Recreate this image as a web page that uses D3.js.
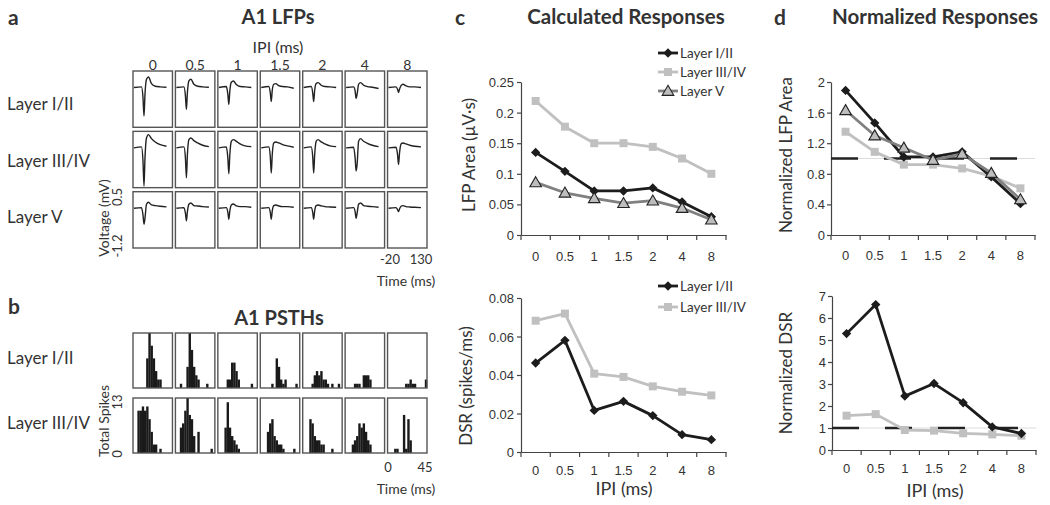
<!DOCTYPE html>
<html><head><meta charset="utf-8">
<script src="https://cdn.jsdelivr.net/npm/d3@7"></script>
<style>
body{margin:0;background:#fff;}
svg{display:block;font-family:Lato,"Open Sans",sans-serif;}
</style></head><body>
<svg id="chart" width="1050" height="505"></svg>
<script>
// ---------- DATA ----------
const ipis = ["0","0.5","1","1.5","2","4","8"];
const lfpLayers = ["Layer I/II","Layer III/IV","Layer V"];
const psthLayers = ["Layer I/II","Layer III/IV"];

// LFP traces: time points (ms) and voltage (mV) per IPI
const lfpTime = [-20,10,16,20,24,30,38,50,65,85,110];
const lfpL12 = [
  [0,0.02,-0.3,-0.86,-0.2,0.25,0.32,0.12,0.04,0.02,0.01],
  [0,0.02,-0.25,-0.66,-0.15,0.2,0.25,0.1,0.04,0.02,0.01],
  [0,0.03,-0.2,-0.51,-0.1,0.16,0.2,0.09,0.03,0.02,0],
  [0,0.03,-0.15,-0.42,-0.08,0.1,0.12,0.06,0.03,0.02,-0.02],
  [0,0.03,-0.15,-0.42,-0.08,0.12,0.15,0.07,0.03,0.02,0],
  [0,0.02,-0.1,-0.33,-0.2,0.1,0.15,0.07,0.03,0.01,-0.03],
  [0,0.02,-0.05,-0.15,-0.05,0.06,0.1,0.05,0.02,0.02,0]
];
const lfpL34 = [
  [0,0.03,-0.4,-1.15,-0.3,0.3,0.4,0.28,0.18,0.1,0.05],
  [0,0.03,-0.3,-0.9,-0.2,0.25,0.3,0.22,0.15,0.08,0.04],
  [0,0.03,-0.3,-0.78,-0.2,0.2,0.25,0.2,0.12,0.06,0.04],
  [0,0.03,-0.25,-0.76,-0.2,0.15,0.18,0.15,0.1,0.06,0.02],
  [0,0.03,-0.25,-0.76,-0.2,0.2,0.25,0.18,0.12,0.06,0.04],
  [0,0.02,-0.3,-0.7,-0.5,0.2,0.28,0.2,0.14,0.08,0.04],
  [0,0.02,-0.2,-0.5,-0.15,0.12,0.15,0.12,0.08,0.05,0.03]
];
const lfpL5 = [
  [0,0.02,-0.2,-0.48,-0.3,0.12,0.18,0.1,0.08,0.06,0.04],
  [0,0.02,-0.15,-0.38,-0.1,0.12,0.16,0.08,0.07,0.05,0.04],
  [0,0.02,-0.12,-0.33,-0.08,0.1,0.13,0.07,0.05,0.05,0.03],
  [0,0.02,-0.12,-0.33,-0.08,0.08,0.1,0.07,0.05,0.05,0.03],
  [0,0.02,-0.12,-0.33,-0.08,0.08,0.1,0.07,0.05,0.04,0.03],
  [0,0.02,-0.1,-0.3,-0.15,0.12,0.16,0.08,0.06,0.05,0.03],
  [0,0.02,-0.04,-0.1,-0.02,0.06,0.08,0.05,0.04,0.03,0.02]
];

// PSTHs: bin starts (ms, 2.5 ms bins) and spike counts per IPI
const psthBins = [0,2.5,5,7.5,10,12.5,15,17.5,20,22.5,25,27.5,30,32.5,35,37.5,40,42.5];
const psthL12 = [
  [0,0,0,0,0,0,7,13,10,7,4,2,2,0,0,0,0,0],
  [0,0,1,0,0,5,13,9,5,3,2,0,0,0,1,0,0,0],
  [0,0,0,0,2,2,6,6,4,2,0,0,0,0,0,1,0,0],
  [0,0,0,0,0,1,0,7,5,2,1,2,0,0,0,0,1,0],
  [0,0,0,0,1,3,4,3,4,2,2,1,0,1,0,0,1,0],
  [0,0,0,0,1,1,1,0,3,3,3,2,0,0,0,0,0,0],
  [0,0,0,0,0,0,0,0,1,1,2,1,1,0,0,0,0,2]
];
const psthL34 = [
  [0,0,10,10,11,10,11,8,5,2,2,0,1,0,0,0,0,0],
  [0,0,6,7,10,13,9,8,4,0,5,0,0,0,0,0,1,0],
  [0,0,0,6,12,6,4,3,2,1,0,0,0,0,0,0,0,0],
  [0,0,0,5,7,8,4,3,2,2,1,0,0,0,0,1,0,0],
  [0,0,0,8,7,4,3,3,2,2,0,0,0,1,0,0,0,0],
  [0,0,0,2,3,4,7,6,7,5,3,2,0,0,0,0,0,0],
  [0,0,0,1,1,0,0,9,1,8,3,0,0,0,0,0,0,0]
];

// Calculated responses
const lfpAreaL12 = [0.135,0.104,0.072,0.072,0.077,0.054,0.030];
const lfpAreaL34 = [0.219,0.177,0.150,0.150,0.144,0.125,0.100];
const lfpAreaL5  = [0.086,0.069,0.060,0.052,0.056,0.044,0.025];
const dsrL12 = [0.0462,0.058,0.0216,0.0263,0.0189,0.009,0.0064];
const dsrL34 = [0.0682,0.0719,0.0407,0.039,0.0341,0.0313,0.0294];
// Normalized responses
const normLfpL12 = [1.89,1.465,1.02,1.02,1.087,0.76,0.41];
const normLfpL34 = [1.35,1.087,0.92,0.92,0.87,0.77,0.61];
const normLfpL5  = [1.63,1.30,1.14,0.98,1.06,0.81,0.465];
const normDsrL12 = [5.29,6.61,2.45,3.02,2.15,1.05,0.75];
const normDsrL34 = [1.56,1.63,0.91,0.88,0.76,0.71,0.65];

const lfpAreaTicks = [0,0.05,0.1,0.15,0.2,0.25];
const dsrTicks = [0,0.02,0.04,0.06,0.08];
const normLfpTicks = [0,0.4,0.8,1.2,1.6,2];
const normDsrTicks = [0,1,2,3,4,5,6,7];

// ---------- DRAWING ----------
const svg = d3.select("#chart");
const TXT = "#333";
function txt(x,y,s,o={}){
  const t = svg.append("text").attr("x",x).attr("y",y).text(s)
    .attr("font-size",o.size||14).attr("font-weight",o.bold?"bold":"normal")
    .attr("text-anchor",o.anchor||"start").attr("dominant-baseline","central")
    .attr("fill",o.fill||TXT);
  if(o.rot) t.attr("transform",`rotate(-90,${x},${y})`);
  return t;
}

// panel letters and titles
txt(8,16,"a",{bold:1,size:21});
txt(8,305,"b",{bold:1,size:21});
txt(455,16,"c",{bold:1,size:21});
txt(774,16,"d",{bold:1,size:21});
txt(278,16,"A1 LFPs",{bold:1,size:20,anchor:"middle"});
txt(279,317,"A1 PSTHs",{bold:1,size:20,anchor:"middle"});
txt(626,16,"Calculated Responses",{bold:1,size:20.5,anchor:"middle"});
txt(935,16,"Normalized Responses",{bold:1,size:20.5,anchor:"middle"});

// ---- Panel a: LFP grid ----
const colX = d3.scaleBand().domain(ipis).range([133,427]).paddingInner(0.07);
const rowA = d3.scaleBand().domain(lfpLayers).range([71,248]).paddingInner(0.067);
txt(278,46,"IPI (ms)",{size:16,anchor:"middle"});
ipis.forEach(c=>txt(colX(c)+colX.bandwidth()/2,64,c,{size:14,anchor:"middle"}));
const lfpSets = [lfpL12,lfpL34,lfpL5];
const rowLabelOffA = [4,1,-3];
lfpLayers.forEach((L,ri)=>{
  const by = rowA(L), bh = rowA.bandwidth();
  txt(7,by+bh/2+rowLabelOffA[ri],L,{size:17});
  ipis.forEach((c,ci)=>{
    const bx = colX(c), bw = colX.bandwidth();
    svg.append("rect").attr("x",bx).attr("y",by).attr("width",bw).attr("height",bh)
      .attr("fill","none").attr("stroke","#555").attr("stroke-width",1.4);
    const tx = d3.scaleLinear().domain([-20,130]).range([bx+1,bx+bw-1]);
    const vy = d3.scaleLinear().domain([-1.2,0.5]).range([by+bh,by]);
    const pts = lfpTime.map((t,i)=>[tx(t),vy(lfpSets[ri][ci][i])]);
    svg.append("path").attr("d",d3.line().curve(d3.curveMonotoneX)(pts))
      .attr("fill","none").attr("stroke","#222").attr("stroke-width",1.4);
  });
});
txt(103,218,"Voltage (mV)",{size:14,anchor:"middle",rot:1});
txt(117,197,"0.5",{size:13,anchor:"middle",rot:1});
txt(117,246,"-1.2",{size:13,anchor:"middle",rot:1});
txt(390,259,"-20",{size:13,anchor:"middle"});
txt(421,259,"130",{size:13,anchor:"middle"});
txt(406,280,"Time (ms)",{size:14,anchor:"middle"});

// ---- Panel b: PSTHs ----
const rowB = d3.scaleBand().domain(psthLayers).range([333,453]).paddingInner(0.154);
const psthSets = [psthL12,psthL34];
const rowLabelOffB = [-3,-3];
psthLayers.forEach((L,ri)=>{
  const by = rowB(L), bh = rowB.bandwidth();
  txt(7,by+bh/2+rowLabelOffB[ri],L,{size:17});
  ipis.forEach((c,ci)=>{
    const bx = colX(c), bw = colX.bandwidth();
    const tx = d3.scaleLinear().domain([0,45]).range([bx,bx+bw]);
    const cy = d3.scaleLinear().domain([0,13]).range([by+bh,by]);
    svg.append("g").selectAll("rect").data(psthBins.map((b,i)=>({b,v:psthSets[ri][ci][i]})).filter(d=>d.v>0))
      .join("rect").attr("x",d=>tx(d.b)).attr("width",d=>tx(d.b+2.5)-tx(d.b)+0.2)
      .attr("y",d=>cy(d.v)).attr("height",d=>cy(0)-cy(d.v)).attr("fill","#1a1a1a");
    svg.append("rect").attr("x",bx).attr("y",by).attr("width",bw).attr("height",bh)
      .attr("fill","none").attr("stroke","#555").attr("stroke-width",1.4);
  });
});
txt(103,421,"Total Spikes",{size:14,anchor:"middle",rot:1});
txt(117,402,"13",{size:13,anchor:"middle",rot:1});
txt(117,454,"0",{size:13,anchor:"middle",rot:1});
txt(388,467,"0",{size:13,anchor:"middle"});
txt(425,467,"45",{size:13,anchor:"middle"});
txt(406,488,"Time (ms)",{size:14,anchor:"middle"});

// ---- line panels ----
const styles = {
  L12:{line:"#1c1c1c",fill:"#1c1c1c",stroke:"#1c1c1c",sym:"diamond"},
  L34:{line:"#c0c0c0",fill:"#c0c0c0",stroke:"#c0c0c0",sym:"square"},
  L5 :{line:"#808080",fill:"#bdbdbd",stroke:"#222",sym:"triangle"}
};
function marker(g,sym,x,y,st){
  if(sym==="diamond"){
    g.append("path").attr("d",d3.symbol().type(d3.symbolSquare).size(44)())
     .attr("transform",`translate(${x},${y}) rotate(45)`).attr("fill",st.fill);
  } else if(sym==="square"){
    g.append("path").attr("d",d3.symbol().type(d3.symbolSquare).size(64)())
     .attr("transform",`translate(${x},${y})`).attr("fill",st.fill);
  } else {
    g.append("path").attr("d",d3.symbol().type(d3.symbolTriangle).size(58)())
     .attr("transform",`translate(${x},${y+1})`).attr("fill",st.fill)
     .attr("stroke",st.stroke).attr("stroke-width",1.1);
  }
}
function linePanel(cfg){
  const g = svg.append("g");
  const x = d3.scaleBand().domain(ipis).range([cfg.x0,cfg.x1]);
  const y = d3.scaleLinear().domain(cfg.dom).range([cfg.y0,cfg.y1]);
  const ya = g.append("g").attr("transform",`translate(${cfg.x0},0)`)
    .call(d3.axisLeft(y).tickValues(cfg.ticks).tickFormat(d=>String(d)).tickSize(4).tickSizeOuter(0));
  ya.selectAll("text").attr("dy",null).attr("x",-cfg.pad).attr("dominant-baseline","central")
    .attr("font-size",13).attr("fill",TXT).attr("font-family",null);
  const xa = g.append("g").attr("transform",`translate(0,${cfg.y0})`)
    .call(d3.axisBottom(x).tickSize(0).tickSizeOuter(0));
  xa.selectAll("text").attr("dy",null).attr("y",cfg.xl).attr("dominant-baseline","central")
    .attr("font-size",13).attr("fill",TXT).attr("font-family",null);
  xa.selectAll("line.bt").data(ipis.map(c=>x(c)).concat([cfg.x1])).join("line").attr("class","bt")
    .attr("x1",d=>d).attr("x2",d=>d).attr("y1",0).attr("y2",5).attr("stroke","#444").attr("stroke-width",1.2);
  [ya,xa].forEach(a=>{a.selectAll("path.domain,line").attr("stroke","#444").attr("stroke-width",1.2);});
  if(cfg.ref){
    g.append("line").attr("x1",cfg.x0).attr("x2",cfg.x1).attr("y1",y(1)).attr("y2",y(1))
      .attr("stroke","#dcdcdc").attr("stroke-width",1);
    g.append("line").attr("x1",cfg.x0).attr("x2",cfg.x1-8).attr("y1",y(1)).attr("y2",y(1))
      .attr("stroke","#222").attr("stroke-width",2.4).attr("stroke-dasharray","27,26");
  }
  const cx = c=>x(c)+x.bandwidth()/2;
  cfg.series.forEach(s=>{
    const st = styles[s.key];
    g.append("path").attr("d",d3.line()(ipis.map((c,i)=>[cx(c),y(s.vals[i])])))
      .attr("fill","none").attr("stroke",st.line).attr("stroke-width",2.8).attr("stroke-linejoin","round");
    ipis.forEach((c,i)=>marker(g,st.sym,cx(c),y(s.vals[i]),st));
  });
  if(cfg.legend){
    cfg.legend.forEach((s,i)=>{
      const st = styles[s.key], ly = cfg.ly[i];
      g.append("line").attr("x1",cfg.lx).attr("x2",cfg.lx+20).attr("y1",ly).attr("y2",ly)
        .attr("stroke",st.line).attr("stroke-width",2.8);
      marker(g,st.sym,cfg.lx+10,ly,st);
      txt(cfg.lx+22,ly,s.name,{size:13.5});
    });
  }
}
const sL12 = {key:"L12",name:"Layer I/II"}, sL34={key:"L34",name:"Layer III/IV"}, sL5={key:"L5",name:"Layer V"};
linePanel({x0:521,x1:726,y0:235,y1:82,dom:[0,0.25],ticks:lfpAreaTicks,pad:7,xl:21,
  series:[{key:"L34",vals:lfpAreaL34},{key:"L12",vals:lfpAreaL12},{key:"L5",vals:lfpAreaL5}],
  legend:[sL12,sL34,sL5],lx:658,ly:[53,72,91]});
linePanel({x0:521,x1:726,y0:452,y1:298,dom:[0,0.08],ticks:dsrTicks,pad:7,xl:18,
  series:[{key:"L34",vals:dsrL34},{key:"L12",vals:dsrL12}],
  legend:[sL12,sL34],lx:658,ly:[286,307]});
linePanel({x0:831,x1:1035,y0:235,y1:82,dom:[0,2],ticks:normLfpTicks,pad:6,xl:20,ref:1,
  series:[{key:"L34",vals:normLfpL34},{key:"L12",vals:normLfpL12},{key:"L5",vals:normLfpL5}]});
linePanel({x0:832,x1:1036,y0:450,y1:296,dom:[0,7],ticks:normDsrTicks,pad:6,xl:18,ref:1,
  series:[{key:"L34",vals:normDsrL34},{key:"L12",vals:normDsrL12}]});

txt(468,155,"LFP Area (µV·s)",{size:17,anchor:"middle",rot:1});
txt(465,386,"DSR (spikes/ms)",{size:17,anchor:"middle",rot:1});
txt(785,155,"Normalized LFP Area",{size:17,anchor:"middle",rot:1});
txt(785,373,"Normalized DSR",{size:17,anchor:"middle",rot:1});
txt(624,488,"IPI (ms)",{size:18,anchor:"middle"});
txt(935,490,"IPI (ms)",{size:18,anchor:"middle"});
</script>
</body></html>
